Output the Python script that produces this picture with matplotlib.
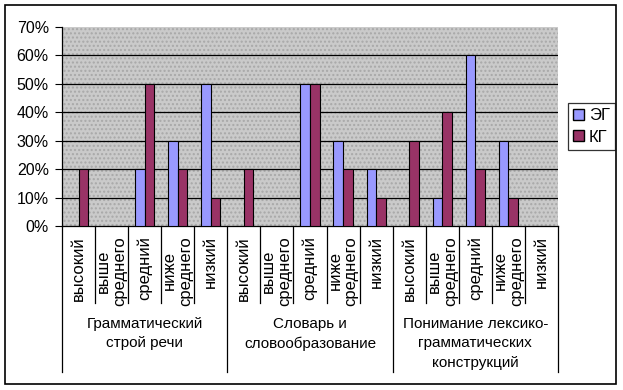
import matplotlib.pyplot as plt
import matplotlib.transforms as mtransforms
from matplotlib.patches import Rectangle, Patch
from matplotlib.ticker import FuncFormatter

plt.rcParams['font.family'] = ['Liberation Sans', 'DejaVu Sans']

groups = ['Грамматический\nстрой речи', 'Словарь и\nсловообразование',
          'Понимание лексико-\nграмматических\nконструкций']
levels = ['высокий', 'выше\nсреднего', 'средний', 'ниже\nсреднего', 'низкий']
eg = [0, 0, 20, 30, 50,
      0, 0, 50, 30, 20,
      0, 10, 60, 30, 0]
kg = [20, 0, 50, 20, 10,
      20, 0, 50, 20, 10,
      30, 40, 20, 10, 0]

W, H = 623, 390
fig = plt.figure(figsize=(W / 100, H / 100), dpi=100)
ax = fig.add_axes([62 / W, 1 - 226 / H, 496 / W, 199 / H])

ax.set_facecolor('#cacaca')
ax.add_patch(Rectangle((0, 0), 1, 1, transform=ax.transAxes, facecolor='none',
                       edgecolor='#a8a8a8', hatch='....', lw=0, zorder=0))

n = len(eg)
x = list(range(n))
w = 0.29
ax.bar([i - w / 2 for i in x], eg, w, color='#9999ff', edgecolor='black', lw=0.8, zorder=3, label='ЭГ')
ax.bar([i + w / 2 for i in x], kg, w, color='#993366', edgecolor='black', lw=0.8, zorder=3, label='КГ')

ax.set_xlim(-0.5, n - 0.5)
ax.set_ylim(0, 70)
ax.set_yticks(range(0, 71, 10))
ax.yaxis.set_major_formatter(FuncFormatter(lambda v, p: f'{int(v)}%'))
ax.tick_params(axis='y', labelsize=11.5, length=5, width=0.8, pad=4.5)
ax.set_xticks([])
for y in range(10, 70, 10):
    ax.axhline(y, color='black', lw=0.9, zorder=1)
for s in ['top', 'right']:
    ax.spines[s].set_visible(False)
ax.spines['left'].set_linewidth(0.9)
ax.spines['bottom'].set_linewidth(0.9)

trans = mtransforms.blended_transform_factory(ax.transData, ax.transAxes)
for i in range(n + 1):
    bottom = -0.734 if i % 5 == 0 else -0.387
    ax.plot([i - 0.5, i - 0.5], [0, bottom], color='black', lw=0.9, transform=trans, clip_on=False)

for i in range(n):
    ax.text(i, -0.05, levels[i % 5], rotation=90, ha='center', va='top', multialignment='center',
            fontsize=12, linespacing=1.1, transform=trans)

for g in range(3):
    ax.text(g * 5 + 2, -0.455, groups[g], ha='center', va='top', fontsize=11,
            linespacing=1.5, transform=trans)

leg = fig.legend(handles=[Patch(facecolor='#9999ff', edgecolor='black'),
                          Patch(facecolor='#993366', edgecolor='black')],
                 labels=['ЭГ', 'КГ'], loc='upper left', bbox_to_anchor=(568 / W, 1 - 103 / H),
                 fontsize=12, frameon=True, fancybox=False, handlelength=0.65, handleheight=0.65,
                 handletextpad=0.3, borderpad=0.3, labelspacing=0.4, borderaxespad=0)
leg.get_frame().set_edgecolor('black')
leg.get_frame().set_linewidth(0.9)

fig.patches.append(Rectangle((5 / W, 1 - 384 / H), 611 / W, 379 / H, transform=fig.transFigure,
                             facecolor='none', edgecolor='black', lw=1.2))

fig.savefig('out.png', dpi=100)
